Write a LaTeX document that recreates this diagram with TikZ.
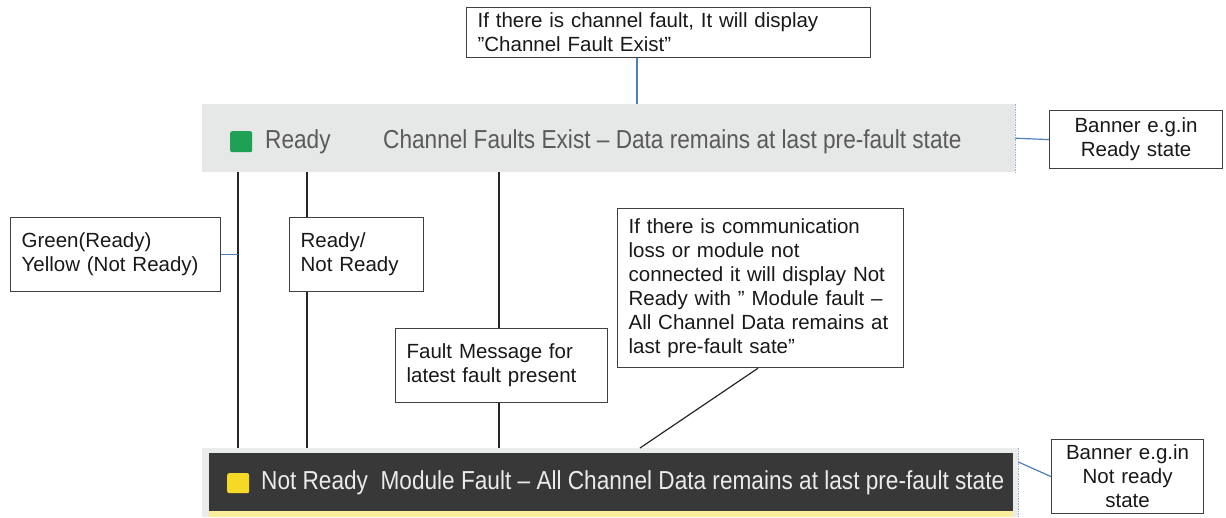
\documentclass[tikz,border=0pt]{standalone}
\usepackage{fontspec}
\setmainfont{Liberation Sans}
\newfontfamily\bannerfont[FakeStretch=0.87]{Liberation Sans}
\usepackage{tikz}
\usetikzlibrary{positioning}
\usetikzlibrary{calc}

\definecolor{boxgray}{HTML}{404040}
\definecolor{linkblue}{HTML}{4F7FB8}
\definecolor{barlight}{HTML}{E6E7E7}
\definecolor{bardark}{HTML}{383838}
\definecolor{lampgreen}{HTML}{1EA154}
\definecolor{lampyellow}{HTML}{F5D925}
\definecolor{bartext}{HTML}{5A5A5A}

\tikzset{
  note/.style={draw=boxgray, line width=1.2pt, fill=white, inner xsep=11pt, inner ysep=3pt,
    anchor=north west, align=left, text=black!90,
    font=\fontsize{20.5}{24}\selectfont},
  notec/.style={note, align=center},
  leader/.style={draw=black!85, line width=1.2pt},
  bluelead/.style={draw=linkblue, line width=1.2pt},
  bar/.style={anchor=north west, inner sep=0pt},
  lamp/.style={anchor=north west, inner sep=0pt, rounded corners=2pt},
  bartxt/.style={anchor=west, inner sep=0pt, font=\bannerfont\fontsize{26}{30}\selectfont}
}

\begin{document}
\begin{tikzpicture}[x=1pt,y=-1pt]
\useasboundingbox (0,0) rectangle (1226,517);
\def\lampx{238}
\def\statex{307}
\def\faultx{499}

% banners
\node[bar, fill=barlight, minimum width=813, minimum height=68] (readybar) at (202,104) {};
\draw[linkblue!60, densely dotted, line width=1.5pt] (readybar.north east) -- (readybar.south east);
\node[lamp, fill=lampgreen, minimum width=22, minimum height=21] (greenlamp) at (230,131) {};
\node[bartxt, text=bartext] (readytxt) at (265,142) {Ready};
\node[bartxt, text=bartext] (chantxt) at (383,142) {Channel Faults Exist – Data remains at last pre-fault state};

\node[bar, fill=barlight!85, minimum width=816, minimum height=69] (notreadybar) at (202,448) {};
\fill[bardark] (209,453) rectangle (1013,511);
\fill[lampyellow!45] (209,511) rectangle (1013,517);
\draw[linkblue!60, densely dotted, line width=1.5pt] (notreadybar.north east) -- (notreadybar.south east);
\node[lamp, fill=lampyellow, minimum width=22, minimum height=20] (yellowlamp) at (227,473) {};
\node[bartxt, text=white!92!black] (modtxt) at (261,483) {Not Ready\ \ Module Fault – All Channel Data remains at last pre-fault state};

% notes
\node[note, text width=382, minimum height=50] (chanfault) at (466,7)
  {If there is channel fault, It will display\\”Channel Fault Exist”};
\node[note, text width=188, minimum height=74] (colorlbl) at (10,217)
  {Green(Ready)\\Yellow (Not Ready)};
\node[note, text width=112, minimum height=74] (statelbl) at (289,217)
  {Ready/\\Not Ready};
\node[note, text width=190, minimum height=74] (faultlbl) at (395,328)
  {Fault Message for\\latest fault present};
\node[note, text width=264, minimum height=159] (commlbl) at (617,208)
  {If there is communication\\loss or module not\\connected it will display Not\\Ready with ” Module fault –\\All Channel Data remains at\\last pre-fault sate”};
\node[notec, text width=151, minimum height=58] (readybox) at (1049,110)
  {Banner e.g.in\\Ready state};
\node[notec, text width=130, minimum height=74] (notreadybox) at (1051,439)
  {Banner e.g.in\\Not ready\\state};

% connectors
\coordinate (chanx) at (637,0);
\coordinate (commfoot) at (758,0);
\coordinate (commtip) at (640,0);
\draw[bluelead] (chanx |- chanfault.south) -- (chanx |- readybar.north);
\draw[bluelead] (readybar.east) -- (readybox.west);
\draw[bluelead] ([yshift=-14pt]notreadybar.north east) -- (notreadybox.west);
\draw[leader] (\lampx,0 |- readybar.south) -- (\lampx,0 |- notreadybar.north);
\draw[bluelead] (colorlbl.east) -- (\lampx,0 |- colorlbl.east);
\draw[leader] (\statex,0 |- readybar.south) -- (\statex,0 |- statelbl.north);
\draw[leader] (\statex,0 |- statelbl.south) -- (\statex,0 |- notreadybar.north);
\draw[leader] (\faultx,0 |- readybar.south) -- (\faultx,0 |- faultlbl.north);
\draw[leader] (\faultx,0 |- faultlbl.south) -- (\faultx,0 |- notreadybar.north);
\draw[leader] (commfoot |- commlbl.south) -- (commtip |- notreadybar.north);
\end{tikzpicture}
\end{document}
